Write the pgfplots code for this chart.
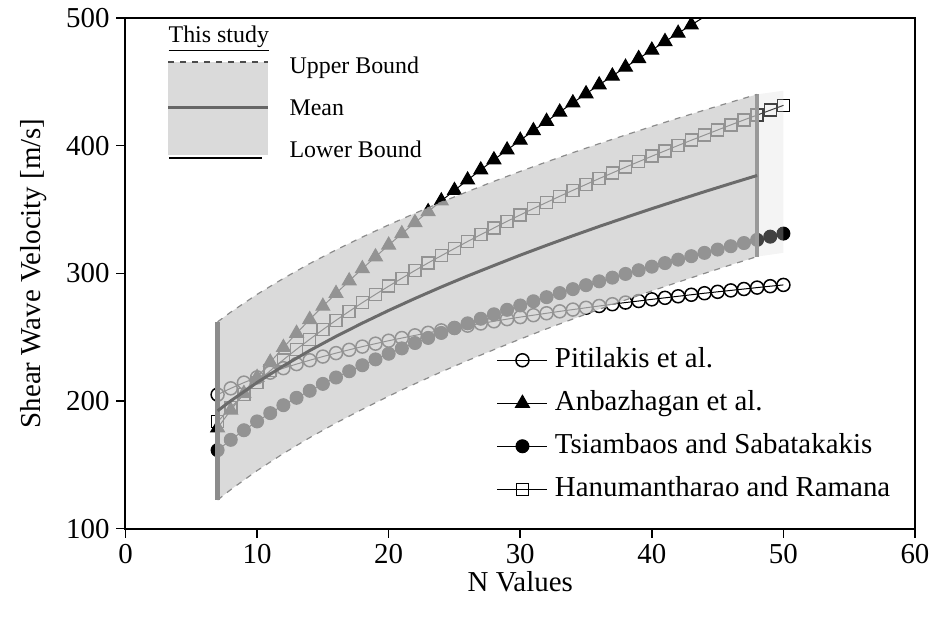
\documentclass[border=0pt]{standalone}
\usepackage{fontspec}
\setmainfont{Liberation Serif}
\usepackage{pgfplots}
\usepackage{pgfplotstable}
\pgfplotsset{compat=1.18}

\pgfplotstableread{
N U M L
7 262.0 192.3 122.5
8 269.6 200.1 130.6
10 283.5 214.5 145.5
12 296.0 227.5 158.9
14 307.6 239.5 171.3
16 318.3 250.6 182.8
18 328.4 261.0 193.5
20 337.9 270.9 203.8
22 347.0 280.3 213.5
24 355.7 289.3 222.8
26 364.0 297.9 231.7
28 372.0 306.1 240.2
30 379.8 314.2 248.5
32 387.2 321.9 256.5
34 394.5 329.4 264.2
36 401.5 336.7 271.8
38 408.3 343.7 279.1
40 415.0 350.6 286.2
42 421.5 357.3 293.1
44 427.8 363.9 299.9
46 434.0 370.3 306.6
48 440.1 376.6 313.1
}\band

\pgfplotstableread{
N P A T H
7 205.0 178.9 161.5 183.8
8 209.9 192.8 169.6 194.8
9 214.4 205.9 177.1 205.0
10 218.5 218.5 184.0 214.6
11 222.2 230.4 190.5 223.7
12 225.7 241.9 196.7 232.3
13 228.9 253.0 202.5 240.5
14 231.9 263.8 208.0 248.3
15 234.8 274.2 213.4 255.9
16 237.5 284.2 218.4 263.2
17 240.1 294.1 223.3 270.2
18 242.6 303.6 228.0 277.0
19 244.9 312.9 232.6 283.5
20 247.2 322.1 237.0 289.9
21 249.3 331.0 241.2 296.1
22 251.4 339.7 245.4 302.2
23 253.4 348.3 249.4 308.1
24 255.3 356.7 253.3 313.8
25 257.2 364.9 257.1 319.4
26 259.0 373.1 260.8 324.9
27 260.7 381.0 264.4 330.3
28 262.4 388.9 267.9 335.5
29 264.1 396.6 271.4 340.7
30 265.7 404.2 274.8 345.7
31 267.2 411.7 278.1 350.7
32 268.7 419.0 281.3 355.5
33 270.2 426.3 284.5 360.3
34 271.6 433.5 287.6 365.0
35 273.0 440.6 290.7 369.6
36 274.4 447.6 293.7 374.2
37 275.8 454.5 296.6 378.6
38 277.1 461.4 299.5 383.1
39 278.3 468.2 302.4 387.4
40 279.6 474.8 305.2 391.7
41 280.8 481.5 308.0 395.9
42 282.0 488.0 310.7 400.1
43 283.2 494.5 313.4 404.2
44 284.4 500.9 316.0 408.2
45 285.5 507.2 318.6 412.2
46 286.6 513.4 321.2 416.2
47 287.7 519.6 323.7 420.1
48 288.8 525.7 326.2 423.9
49 289.9 531.7 328.7 427.7
50 290.9 537.7 331.1 431.5
}\series

\begin{document}
\begin{tikzpicture}
\begin{axis}[
  name=ax,
  at={(0,0)}, anchor=south west,
  scale only axis, width=394.75bp, height=255.4bp,
  xmin=0, xmax=60, ymin=100, ymax=500,
  xtick={0,10,...,60}, ytick={100,200,...,500},
  tick align=outside, tick pos=left,
  major tick length=4.5bp,
  axis line style={line width=1bp},
  every tick/.style={black, line width=0.8bp},
  clip marker paths=true,
  /pgf/number format/assume math mode=true,
  ticklabel style={font=\fontsize{14.5}{17}\selectfont},
  label style={font=\fontsize{14.5}{17}\selectfont},
  xlabel={N Values}, ylabel={Shear Wave Velocity [m/s]},
  xlabel shift=-3bp, ylabel shift=3bp,
  legend style={draw=none, fill=none, at={(0.47,0.356)}, anchor=north west,
    inner sep=0pt, row sep=8.5bp, column sep=3.5bp,
    font=\fontsize{14.5}{17}\selectfont,
    nodes={inner sep=0pt, text height=10bp, text depth=3bp}},
  legend cell align=left,
  legend image code/.code={\draw[mark repeat=2,mark phase=2] plot coordinates {(0bp,0bp)(12.5bp,0bp)(25bp,0bp)};},
]
% comparison series
\addplot[black, line width=0.5bp, mark=o, mark size=3.25bp, mark options={solid, line width=0.75bp}] table[x=N,y=P]{\series};
\addplot[black, line width=0.5bp, mark=triangle*, mark size=4bp, mark options={solid}] table[x=N,y=A]{\series};
\addplot[black, line width=0.5bp, mark=*, mark size=3.25bp, mark options={solid}] table[x=N,y=T]{\series};
\addplot[black, line width=0.5bp, mark=square, mark size=3bp, mark options={solid, line width=0.75bp}] table[x=N,y=H]{\series};
\legend{Pitilakis et al., Anbazhagan et al., Tsiambaos and Sabatakakis, Hanumantharao and Ramana}

% band of this study (upper bound left to right, lower bound right to left)
\addplot[fill=black!20, fill opacity=0.72, draw=none, forget plot] coordinates {
(7,262.0) (8,269.6) (10,283.5) (12,296.0) (14,307.6) (16,318.3) (18,328.4) (20,337.9)
(22,347.0) (24,355.7) (26,364.0) (28,372.0) (30,379.8) (32,387.2) (34,394.5) (36,401.5)
(38,408.3) (40,415.0) (42,421.5) (44,427.8) (46,434.0) (48,440.1)
(48,313.1) (46,306.6) (44,299.9) (42,293.1) (40,286.2) (38,279.1) (36,271.8) (34,264.2)
(32,256.5) (30,248.5) (28,240.2) (26,231.7) (24,222.8) (22,213.5) (20,203.8) (18,193.5)
(16,182.8) (14,171.3) (12,158.9) (10,145.5) (8,130.6) (7,122.5)
} -- cycle;
\addplot[fill=black!15, fill opacity=0.3, draw=none, forget plot] coordinates {
(48,440.1) (50,443.0) (50,316.0) (48,313.1)
} -- cycle;
\addplot[black!45, line width=2.5bp, forget plot] coordinates {(7,122.5) (7,262.0)};
\addplot[black!40, line width=2bp, forget plot] coordinates {(48,313.1) (48,440.1)};
\addplot[black!45, dashed, line width=0.6bp, forget plot] table[x=N,y=U]{\band};
\addplot[black!45, dashed, line width=0.6bp, forget plot] table[x=N,y=L]{\band};
\addplot[black!58, line width=1.5bp, forget plot] table[x=N,y=M]{\band};

% "This study" key
\fill[black!20, fill opacity=0.72] (axis cs:3.25,392.5) rectangle (axis cs:10.85,465.5);
\draw[black!70, dashed, line width=0.8bp] (axis cs:3.25,465.5) -- (axis cs:10.85,465.5);
\draw[black!60, line width=1.5bp] (axis cs:3.25,430.2) -- (axis cs:10.85,430.2);
\draw[black, line width=1bp] (axis cs:3.3,390.2) -- (axis cs:10.4,390.2);
\node[anchor=west, font=\fontsize{12}{14}\selectfont, inner sep=0pt] at (axis cs:3.25,484) {\underline{This study}};
\node[anchor=west, font=\fontsize{12}{14}\selectfont, inner sep=0pt] at (axis cs:12.44,460.7) {Upper Bound};
\node[anchor=west, font=\fontsize{12}{14}\selectfont, inner sep=0pt] at (axis cs:12.44,429.4) {Mean};
\node[anchor=west, font=\fontsize{12}{14}\selectfont, inner sep=0pt] at (axis cs:12.44,397.3) {Lower Bound};
\end{axis}
\pgfresetboundingbox
\path[use as bounding box] (-62.75bp,-47.65bp) rectangle (402.75bp,264.35bp);
\end{tikzpicture}
\end{document}
